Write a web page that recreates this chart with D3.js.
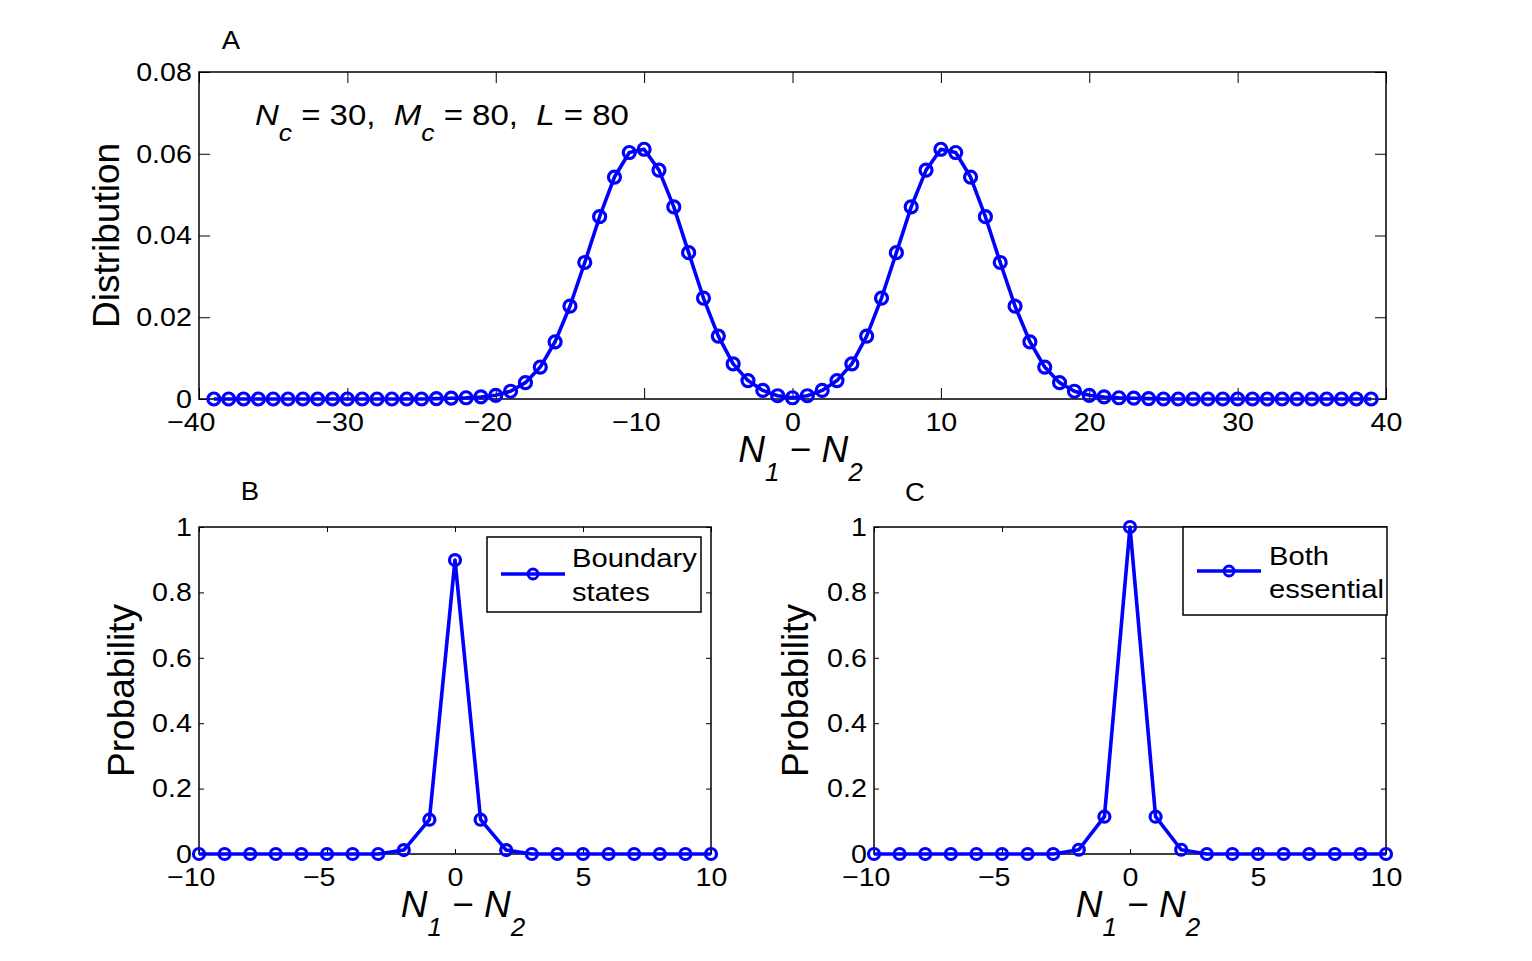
<!DOCTYPE html>
<html>
<head>
<meta charset="utf-8">
<script src="https://cdn.jsdelivr.net/npm/d3@7"></script>
<style>
  body { margin: 0; background: #fff; }
  svg { display: block; }
  text { font-family: "Liberation Sans", Arial, Helvetica, sans-serif; fill: #000; }
</style>
</head>
<body>
<div id="chart"></div>
<script>
// panel A: distribution of N1 - N2
const distX = d3.range(-39, 40);
const distY = [
  0, 0, 0, 0, 0, 0, 0, 0, 0, 0, 0, 0, 0, 0, 0,          // -39 .. -25
  0.0001, 0.0002, 0.0003, 0.0005, 0.0009, 0.0019, 0.0040, 0.0078, 0.0140, 0.0227,
  0.0334, 0.0446, 0.0543, 0.0603, 0.0611, 0.0560, 0.0470, 0.0358, 0.0247, 0.0154,
  0.0086, 0.0045, 0.0021, 0.0008, 0.0003, 0.0008, 0.0021, 0.0045, 0.0086, 0.0154,
  0.0247, 0.0358, 0.0470, 0.0560, 0.0611, 0.0603, 0.0543, 0.0446, 0.0334, 0.0227,
  0.0140, 0.0078, 0.0040, 0.0019, 0.0009, 0.0005, 0.0003, 0.0002, 0.0001,
  0, 0, 0, 0, 0, 0, 0, 0, 0, 0, 0, 0, 0, 0, 0           // 25 .. 39
];
const distXTicks = [-40, -30, -20, -10, 0, 10, 20, 30, 40];
const distYTicks = [0, 0.02, 0.04, 0.06, 0.08];
const distYLabels = ["0", "0.02", "0.04", "0.06", "0.08"];

// panels B and C
const probX = [-10, -9, -8, -7, -6, -5, -4, -3, -2, -1, 0, 1, 2, 3, 4, 5, 6, 7, 8, 9, 10];
const boundaryY = [0, 0, 0, 0, 0, 0, 0, 0, 0.012, 0.105, 0.899, 0.105, 0.012, 0, 0, 0, 0, 0, 0, 0, 0];
const essentialY = [0, 0, 0, 0, 0, 0, 0, 0, 0.013, 0.114, 1.0, 0.114, 0.013, 0, 0, 0, 0, 0, 0, 0, 0];
const probXTicks = [-10, -5, 0, 5, 10];
const probYTicks = [0, 0.2, 0.4, 0.6, 0.8, 1];
const probYLabels = ["0", "0.2", "0.4", "0.6", "0.8", "1"];

const blue = "#0000ff";
const SX = 1.1; // the figure's lettering is a bit wider than tall
const minus = d => d < 0 ? "\u2212" + Math.abs(d) : String(d);

const svg = d3.select("#chart").append("svg")
  .attr("width", 1532)
  .attr("height", 961);

function stretchedText(g, x, y, size) {
  return g.append("text")
    .attr("transform", `translate(${x},${y}) scale(${SX},1)`)
    .attr("font-size", size)
    .style("white-space", "pre");
}

function panel(opt) {
  const x = d3.scaleLinear().domain(opt.xDomain).range([opt.left, opt.right]);
  const y = d3.scaleLinear().domain(opt.yDomain).range([opt.bottom, opt.top]);
  const g = svg.append("g");

  // ticks (inside, mirrored on top/right)
  const styleAxis = sel => {
    sel.select(".domain").remove();
    sel.selectAll("line").attr("stroke", "#000").attr("stroke-width", 1);
    sel.selectAll("text").attr("font-size", 26)
      .attr("font-family", "Liberation Sans, Arial, sans-serif").attr("fill", "#000")
      .attr("transform", `scale(${SX},1)`);
  };
  g.append("g").attr("transform", `translate(0,${opt.bottom})`)
    .call(d3.axisBottom(x).tickValues(opt.xTicks).tickFormat(minus)
      .tickSize(-opt.tickLen).tickPadding(13.5))
    .call(styleAxis)
    .selectAll("text")
    .attr("dx", d => d < 0 ? "-0.29em" : 0);
  g.append("g").attr("transform", `translate(0,${opt.top})`)
    .call(d3.axisTop(x).tickValues(opt.xTicks).tickFormat("").tickSize(-opt.tickLen))
    .call(styleAxis);
  g.append("g").attr("transform", `translate(${opt.left},0)`)
    .call(d3.axisLeft(y).tickValues(opt.yTicks).tickFormat((d, i) => opt.yLabels[i])
      .tickSize(-opt.tickLen).tickPadding(6.5))
    .call(styleAxis);
  g.append("g").attr("transform", `translate(${opt.right},0)`)
    .call(d3.axisRight(y).tickValues(opt.yTicks).tickFormat("").tickSize(-opt.tickLen))
    .call(styleAxis);

  // box
  g.append("rect")
    .attr("x", opt.left).attr("y", opt.top)
    .attr("width", opt.right - opt.left).attr("height", opt.bottom - opt.top)
    .attr("fill", "none").attr("stroke", "#000").attr("stroke-width", 1.5);

  // series
  const pts = opt.xs.map((d, i) => [d, opt.ys[i]]);
  g.append("path")
    .datum(pts)
    .attr("fill", "none")
    .attr("stroke", blue)
    .attr("stroke-width", 3.6)
    .attr("stroke-linejoin", "round")
    .attr("d", d3.line().x(d => x(d[0])).y(d => y(d[1])));
  g.selectAll(".mk")
    .data(pts)
    .enter()
    .append("circle")
    .attr("cx", d => x(d[0]))
    .attr("cy", d => y(d[1]))
    .attr("r", opt.r)
    .attr("fill", "none")
    .attr("stroke", blue)
    .attr("stroke-width", 3.2);

  // y label
  g.append("text")
    .attr("transform", `translate(${opt.yLabelX},${(opt.top + opt.bottom) / 2}) rotate(-90)`)
    .attr("text-anchor", "middle")
    .attr("font-size", 37)
    .text(opt.yLabel);

  // x label: N1 − N2
  const xl = g.append("text")
    .attr("x", (opt.left + opt.right) / 2 + 8)
    .attr("y", opt.bottom + 63)
    .attr("text-anchor", "middle")
    .attr("font-size", 37);
  xl.append("tspan").attr("font-style", "italic").text("N");
  xl.append("tspan").attr("font-style", "italic").attr("font-size", 26).attr("dy", 19).text("1");
  xl.append("tspan").attr("dy", -19).text(" \u2212 ");
  xl.append("tspan").attr("font-style", "italic").text("N");
  xl.append("tspan").attr("font-style", "italic").attr("font-size", 26).attr("dy", 19).text("2");

  // panel letter
  stretchedText(g, opt.letterX, opt.letterY, 25)
    .attr("text-anchor", "middle")
    .text(opt.letter);

  return { g, x, y };
}

const A = panel({
  left: 199, right: 1386, top: 72, bottom: 399, tickLen: 11, r: 6,
  xDomain: [-40, 40], yDomain: [0, 0.08],
  xTicks: distXTicks, yTicks: distYTicks, yLabels: distYLabels,
  xs: distX, ys: distY,
  yLabel: "Distribution", yLabelX: 119,
  letter: "A", letterX: 231, letterY: 49
});

const B = panel({
  left: 199, right: 711, top: 527, bottom: 854, tickLen: 5, r: 5.5,
  xDomain: [-10, 10], yDomain: [0, 1],
  xTicks: probXTicks, yTicks: probYTicks, yLabels: probYLabels,
  xs: probX, ys: boundaryY,
  yLabel: "Probability", yLabelX: 134,
  letter: "B", letterX: 250, letterY: 500
});

const C = panel({
  left: 874, right: 1386, top: 527, bottom: 854, tickLen: 5, r: 5.5,
  xDomain: [-10, 10], yDomain: [0, 1],
  xTicks: probXTicks, yTicks: probYTicks, yLabels: probYLabels,
  xs: probX, ys: essentialY,
  yLabel: "Probability", yLabelX: 808,
  letter: "C", letterX: 915, letterY: 501
});

// parameter annotation in panel A
const ann = stretchedText(A.g, 255, 125, 30);
ann.append("tspan").attr("font-style", "italic").text("N");
ann.append("tspan").attr("font-style", "italic").attr("font-size", 24).attr("dy", 16).text("c");
ann.append("tspan").attr("dy", -16).text(" = 30,  ");
ann.append("tspan").attr("font-style", "italic").text("M");
ann.append("tspan").attr("font-style", "italic").attr("font-size", 24).attr("dy", 16).text("c");
ann.append("tspan").attr("dy", -16).text(" = 80,  ");
ann.append("tspan").attr("font-style", "italic").text("L");
ann.append("tspan").text(" = 80");

// legends
function legend(g, box, lineY, lineX0, lineX1, textX, lines) {
  g.append("rect")
    .attr("x", box[0]).attr("y", box[1])
    .attr("width", box[2] - box[0]).attr("height", box[3] - box[1])
    .attr("fill", "#fff").attr("stroke", "#000").attr("stroke-width", 1.5);
  g.append("line")
    .attr("x1", lineX0).attr("x2", lineX1).attr("y1", lineY).attr("y2", lineY)
    .attr("stroke", blue).attr("stroke-width", 3.6);
  g.append("circle")
    .attr("cx", (lineX0 + lineX1) / 2).attr("cy", lineY).attr("r", 5)
    .attr("fill", "none").attr("stroke", blue).attr("stroke-width", 3);
  lines.forEach(l => {
    stretchedText(g, textX, l[1], 26.5).text(l[0]);
  });
}
legend(B.g, [487, 537, 701, 612], 574, 501, 565, 572, [["Boundary", 567], ["states", 601]]);
legend(C.g, [1183, 527, 1387, 615], 571, 1197, 1261, 1269, [["Both", 565], ["essential", 598]]);
</script>
</body>
</html>
